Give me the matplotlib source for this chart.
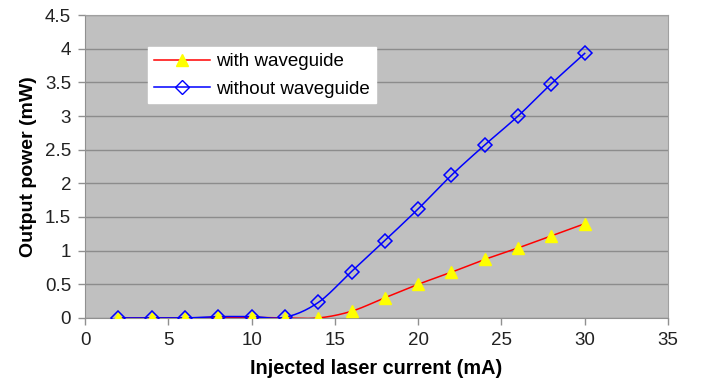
import numpy as np
import matplotlib.pyplot as plt

plt.rcParams['font.family'] = ['Liberation Sans', 'DejaVu Sans']

current = [2, 4, 6, 8, 10, 12, 14, 16, 18, 20, 22, 24, 26, 28, 30]
with_wg = [0, 0, 0, 0.01, 0.01, 0, 0, 0.10, 0.30, 0.50, 0.68, 0.87, 1.04, 1.22, 1.40]
without_wg = [0, 0, 0, 0.02, 0.02, 0.01, 0.23, 0.69, 1.15, 1.62, 2.12, 2.57, 3.00, 3.48, 3.93]


def smooth(x, y, n=20):
    # Catmull-Rom path through the points, like Excel's smoothed line
    x = np.asarray(x, float)
    y = np.asarray(y, float)
    px = np.concatenate([[2 * x[0] - x[1]], x, [2 * x[-1] - x[-2]]])
    py = np.concatenate([[2 * y[0] - y[1]], y, [2 * y[-1] - y[-2]]])
    t = np.linspace(0, 1, n, endpoint=False)
    xs, ys = [], []
    for i in range(1, len(px) - 2):
        for p, out in ((px, xs), (py, ys)):
            p0, p1, p2, p3 = p[i - 1], p[i], p[i + 1], p[i + 2]
            out.extend(0.5 * (2 * p1 + (-p0 + p2) * t + (2 * p0 - 5 * p1 + 4 * p2 - p3) * t ** 2
                              + (-p0 + 3 * p1 - 3 * p2 + p3) * t ** 3))
    xs.append(x[-1])
    ys.append(y[-1])
    return xs, ys


fig = plt.figure(figsize=(7.05, 3.81), dpi=100)
ax = fig.add_axes([0.1206, 0.1654, 0.8269, 0.7952])
ax.set_facecolor('#c0c0c0')

sx, sy = smooth(current, with_wg)
ax.plot(sx, sy, color='#ff0000', lw=1.1, zorder=3)
sx, sy = smooth(current, without_wg)
ax.plot(sx, sy, color='#0000ff', lw=1.1, zorder=3)

ax.plot(current, with_wg, ls='none', marker='^', ms=8.5, mfc='#ffff00', mec='#ffff00', zorder=4)
ax.plot(current, without_wg, ls='none', marker='D', ms=7, mfc='none', mec='#0000ff', mew=1.1, zorder=5)

# legend handles
h1, = ax.plot([], [], color='#ff0000', lw=1.1, marker='^', ms=8.5, mfc='#ffff00', mec='#ffff00')
h2, = ax.plot([], [], color='#0000ff', lw=1.1, marker='D', ms=7, mfc='none', mec='#0000ff')
leg = ax.legend([h1, h2], ['with waveguide', 'without waveguide'], loc='upper left',
                bbox_to_anchor=(0.108, 0.893), frameon=True, fancybox=False, fontsize=13.5,
                handlelength=3.0, borderpad=0.3, labelspacing=0.55, handletextpad=0.35,
                borderaxespad=0)
leg.get_frame().set_facecolor('white')
leg.get_frame().set_edgecolor('white')
leg.get_frame().set_alpha(1)

ax.set_xlim(0, 35)
ax.set_ylim(0, 4.5)
ax.set_xticks(np.arange(0, 36, 5))
ax.set_yticks(np.arange(0, 4.51, 0.5))
ax.set_yticklabels(['0', '0.5', '1', '1.5', '2', '2.5', '3', '3.5', '4', '4.5'])
ax.yaxis.grid(True, color='#8c8c8c', lw=1)
ax.set_axisbelow(True)
ax.tick_params(labelsize=13.5, colors='#909090', labelcolor='#222222', length=5, width=1, pad=5)
for side in ['top', 'right']:
    ax.spines[side].set_color('#a0a0a0')
for side in ['left', 'bottom']:
    ax.spines[side].set_color('#909090')

ax.set_xlabel('Injected laser current (mA)', fontsize=14.3, fontweight='bold', labelpad=7)
ax.set_ylabel('Output power (mW)', fontsize=14, fontweight='bold', labelpad=6)

fig.savefig('out.png', dpi=100)
